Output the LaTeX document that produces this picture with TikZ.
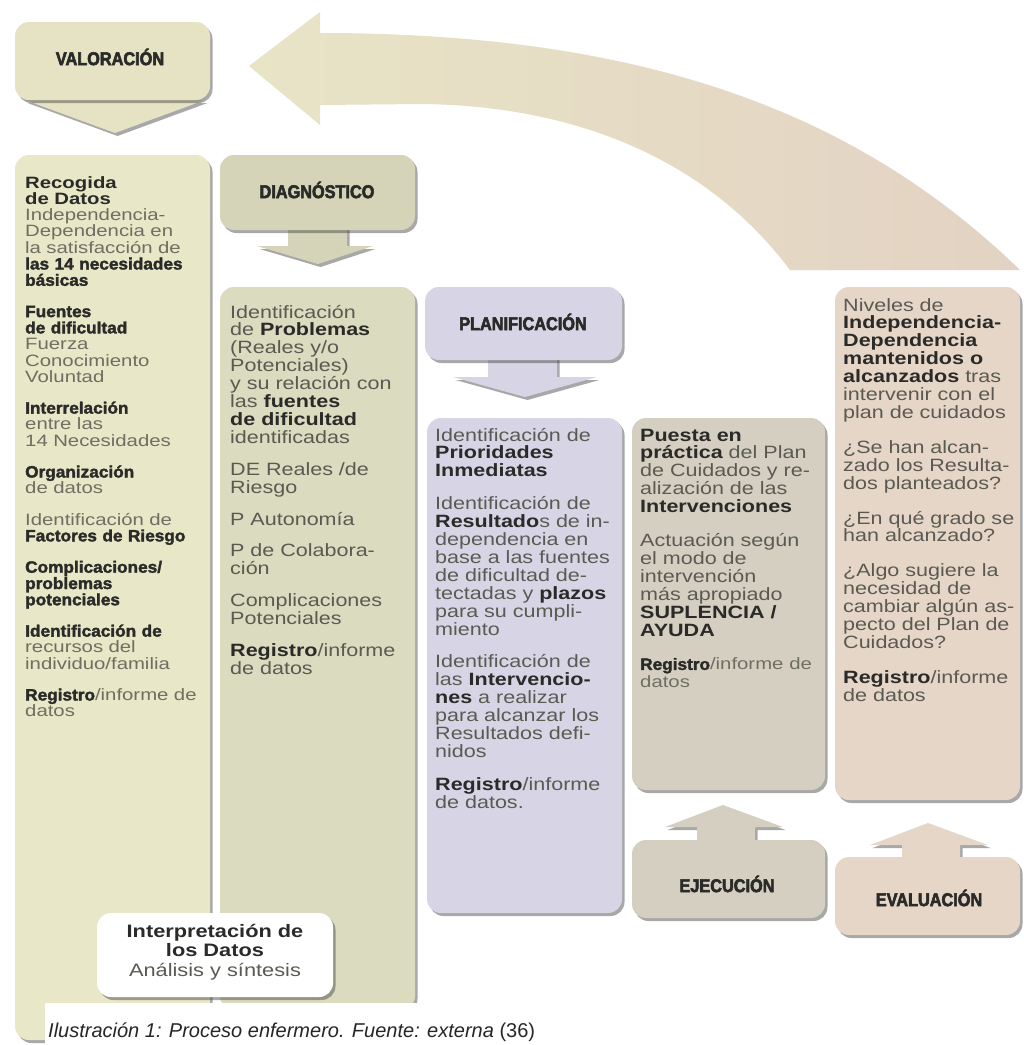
\documentclass[tikz,border=0pt]{standalone}
\usepackage{fontspec}
\setmainfont{Liberation Sans}
\usetikzlibrary{shadows}
\newfontfamily\bodyf{Liberation Sans}[FakeStretch=1.21]
\newfontfamily\leftf{Liberation Sans}[FakeStretch=1.24]
\newfontfamily\headf{Liberation Sans Bold}[FakeStretch=0.88,FakeBold=3]
\newfontfamily\heavyf{Liberation Sans Bold}[FakeStretch=1.05,FakeBold=2]
\newfontfamily\capf{Liberation Sans}
\definecolor{valc}{HTML}{E5E3C3}
\definecolor{leftc}{HTML}{E8E7C7}
\definecolor{diagh}{HTML}{D5D4B8}
\definecolor{diagc}{HTML}{DADBBF}
\definecolor{planc}{HTML}{D7D5E5}
\definecolor{ejec}{HTML}{D5CFC2}
\definecolor{evalc}{HTML}{E6D6C8}
\definecolor{arrL}{HTML}{E8E4C6}
\definecolor{arrR}{HTML}{E3D2C3}
\definecolor{txt}{HTML}{5A5A52}
\definecolor{txtl}{HTML}{6E6E62}
\definecolor{bld}{HTML}{2A2A28}
\newcommand{\hvy}[1]{{\heavyf\color{bld}#1}}
\newcommand{\bdk}[1]{{\bfseries\color{bld}#1}}
\tikzset{
  boxshadow/.style={drop shadow={shadow xshift=2.5pt,shadow yshift=-3pt,fill=black!75,opacity=.45}},
  colbox/.style={rounded corners=14pt, boxshadow},
  arrshape/.style={boxshadow},
  coltext/.style={anchor=base west, inner sep=0pt, text width=230pt, align=left, text=txt,
    font=\bodyf\fontsize{17.8}{17.9}\selectfont},
  lefttext/.style={coltext, text=txtl, font=\leftf\fontsize{16.4}{16.3}\selectfont},
  headtext/.style={inner sep=0pt, text=bld, font=\headf\fontsize{18.5}{20}\selectfont},
}
\begin{document}
\begin{tikzpicture}[x=1pt,y=-1pt]
\useasboundingbox (0,0) rectangle (1024,1045);
\fill[white] (0,0) rectangle (1024,1045);
% big return arrow
\shade[left color=arrL, right color=arrR]
  (249,66) -- (320,12) -- (320,33) .. controls (650,33) and (860,115) .. (1020,270)
  -- (790,270) .. controls (700,150) and (560,105) .. (420,104) -- (320,105) -- (320,125) -- cycle;
% header arrows (down)
\fill[valc, arrshape] (78,92) -- (78,100) -- (25,100) -- (115,133) -- (205,100) -- (145,100) -- (145,92) -- cycle;
\fill[diagh, arrshape] (288,225) -- (288,246) -- (257,246) -- (318,264) -- (373,246) -- (347,246) -- (347,225) -- cycle;
\fill[planc, arrshape] (488,355) -- (488,377) -- (453,377) -- (525,397) -- (597,377) -- (557,377) -- (557,355) -- cycle;
% header boxes
\fill[valc, colbox] (15,22) rectangle (210,100);
\fill[diagh, colbox] (220,155) rectangle (415,230);
\fill[planc, colbox] (425,287) rectangle (622,360);
% up arrows
\fill[ejec, arrshape] (697,845) -- (697,827) -- (665,827) -- (723,805) -- (783,827) -- (755,827) -- (755,845) -- cycle;
\fill[evalc, arrshape] (902,862) -- (902,845) -- (870,845) -- (928,823) -- (988,845) -- (960,845) -- (960,862) -- cycle;
\fill[ejec, colbox] (632,840) rectangle (825,918);
\fill[evalc, colbox] (835,857) rectangle (1020,935);
% columns
\fill[diagc, colbox] (220,287) rectangle (415,1010);
\fill[leftc, colbox] (15,155) rectangle (210,1040);
\fill[planc, colbox] (427,418) rectangle (622,913);
\fill[ejec, colbox] (632,418) rectangle (825,790);
\fill[evalc, colbox] (835,287) rectangle (1020,800);
% interpretation box
\fill[white, colbox] (97,913) rectangle (333,997);
% caption background
\fill[white] (45,1003) rectangle (1024,1045);

% header labels
\node[headtext] (hval) at (110,57) {VALORACIÓN};
\node[headtext] (hdiag) at (317,190) {DIAGNÓSTICO};
\node[headtext] (hplan) at (523,322) {PLANIFICACIÓN};
\node[headtext] (hejec) at (727,884) {EJECUCIÓN};
\node[headtext] (heval) at (929,898) {EVALUACIÓN};

% left column
\node[lefttext] (tval) at (25,188) {%
\bdk{Recogida}\\
\bdk{de Datos}\\
Independencia-\\
Dependencia en\\
la satisfacción de\\
\hvy{las 14 necesidades}\\
\hvy{básicas}\\[15pt]
\hvy{Fuentes}\\
\hvy{de dificultad}\\
Fuerza\\
Conocimiento\\
Voluntad\\[15pt]
\hvy{Interrelación}\\
entre las\\
14 Necesidades\\[15pt]
\hvy{Organización}\\
de datos\\[15pt]
Identificación de\\
\hvy{Factores de Riesgo}\\[15pt]
\hvy{Complicaciones/}\\
\hvy{problemas}\\
\hvy{potenciales}\\[15pt]
\hvy{Identificación de}\\
recursos del\\
individuo/familia\\[15pt]
\hvy{Registro}/informe de\\
datos};

% diagnostico column
\node[coltext] (tdiag) at (230,318) {%
Identificación\\
de \bdk{Problemas}\\
(Reales y/o\\
Potenciales)\\
y su relación con\\
las \bdk{fuentes}\\
\bdk{de dificultad}\\
identificadas\\[14pt]
DE Reales /de\\
Riesgo\\[14pt]
P Autonomía\\[14pt]
P de Colabora-\\
ción\\[14pt]
Complicaciones\\
Potenciales\\[14pt]
\bdk{Registro}/informe\\
de datos};

% planificacion column
\node[coltext] (tplan) at (435,441) {%
Identificación de\\
\bdk{Prioridades}\\
\bdk{Inmediatas}\\[15pt]
Identificación de\\
\bdk{Resultado}s de in-\\
dependencia en\\
base a las fuentes\\
de dificultad de-\\
tectadas y \bdk{plazos}\\
para su cumpli-\\
miento\\[15pt]
Identificación de\\
las \bdk{Intervencio-}\\
\bdk{nes} a realizar\\
para alcanzar los\\
Resultados defi-\\
nidos\\[15pt]
\bdk{Registro}/informe\\
de datos.};

% ejecucion column
\node[coltext] (tejec) at (640,441) {%
\bdk{Puesta en}\\
\bdk{práctica} del Plan\\
de Cuidados y re-\\
alización de las\\
\bdk{Intervenciones}\\[16pt]
Actuación según\\
el modo de\\
intervención\\
más apropiado\\
\bdk{SUPLENCIA /}\\
\bdk{AYUDA}\\[16pt]
{\leftf\color{txtl}\fontsize{16.4}{16.3}\selectfont\hvy{Registro}/informe de}\\
{\leftf\color{txtl}\fontsize{16.4}{16.3}\selectfont datos}};

% evaluacion column
\node[coltext] (teval) at (843,311) {%
Niveles de\\
\bdk{Independencia-}\\
\bdk{Dependencia}\\
\bdk{mantenidos o}\\
\bdk{alcanzados} tras\\
intervenir con el\\
plan de cuidados\\[17pt]
¿Se han alcan-\\
zado los Resulta-\\
dos planteados?\\[17pt]
¿En qué grado se\\
han alcanzado?\\[17pt]
¿Algo sugiere la\\
necesidad de\\
cambiar algún as-\\
pecto del Plan de\\
Cuidados?\\[17pt]
\bdk{Registro}/informe\\
de datos};

% interpretation
\node[inner sep=0pt, align=center, text=txt, font=\bodyf\fontsize{18}{19.5}\selectfont] (tint) at (215,952) {%
\bdk{Interpretación de}\\
\bdk{los Datos}\\
Análisis y síntesis};

% caption
\node[anchor=base west, inner sep=0pt, text=black!85, font=\capf\fontsize{20}{21}\selectfont] (cap) at (48,1037)
  {\textit{Ilustración 1: Proceso enfermero. Fuente: externa} (36)};
\end{tikzpicture}
\end{document}
